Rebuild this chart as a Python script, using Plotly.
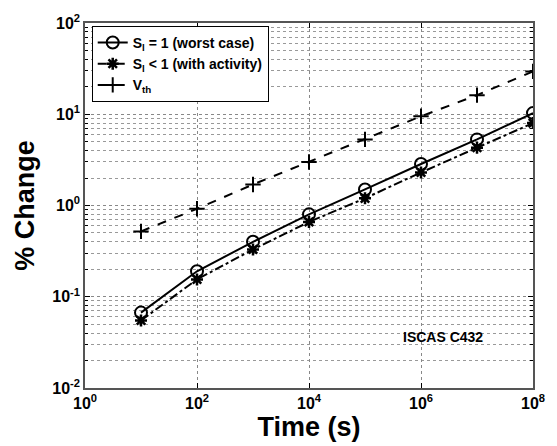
import plotly.graph_objects as go

time_s = [1e1, 1e2, 1e3, 1e4, 1e5, 1e6, 1e7, 1e8]
worst_case = [0.067, 0.19, 0.40, 0.80, 1.5, 2.85, 5.3, 10.3]
with_activity = [0.055, 0.155, 0.33, 0.66, 1.2, 2.3, 4.3, 8.0]
vth = [0.52, 0.92, 1.7, 3.0, 5.3, 9.5, 16.2, 29.5]

names = ["S<sub>l</sub> = 1 (worst case)", "S<sub>l</sub> < 1 (with activity)", "V<sub>th</sub>"]
xticks = [1e0, 1e2, 1e4, 1e6, 1e8]
yticks = [1e-2, 1e-1, 1e0, 1e1, 1e2]

fig = go.Figure()
fig.add_trace(go.Scatter(x=time_s, y=worst_case, name=names[0], mode="lines+markers",
                         line=dict(color="black", width=2, dash="solid"),
                         marker=dict(symbol="circle-open", size=12, color="black", line=dict(width=2))))
fig.add_trace(go.Scatter(x=time_s, y=with_activity, name=names[1], mode="lines+markers",
                         line=dict(color="black", width=2, dash="dashdot"),
                         marker=dict(symbol="asterisk-open", size=10, color="black", line=dict(width=2.5, color="black"))))
fig.add_trace(go.Scatter(x=time_s, y=vth, name=names[2], mode="lines+markers",
                         line=dict(color="black", width=2, dash="dash"),
                         marker=dict(symbol="cross-thin-open", size=11, color="black", line=dict(width=2, color="black"))))

fnt = "Liberation Sans, Arial, sans-serif"
fig.update_layout(
    width=557, height=446,
    margin=dict(l=85, r=12, t=22, b=58),
    paper_bgcolor="white", plot_bgcolor="white",
    font=dict(family=fnt, color="black"),
    showlegend=True,
    legend=dict(x=0.015, y=0.992, xanchor="left", yanchor="top",
                bgcolor="white", bordercolor="black", borderwidth=1,
                font=dict(size=14, family=fnt, weight="bold"),
                tracegroupgap=0, itemwidth=30),
    annotations=[dict(text="<b>ISCAS C432</b>", x=0.8, y=0.14, xref="paper", yref="paper",
                      showarrow=False, font=dict(size=14, family=fnt), xanchor="center", yanchor="middle")],
)
fig.update_xaxes(type="log", range=[0, 8],
                 tickvals=xticks, ticktext=["<b>10<sup>%d</sup></b>" % i for i in range(0, 9, 2)],
                 tickfont=dict(size=16, family=fnt),
                 ticks="inside", ticklen=5, tickcolor="black",
                 showline=True, linecolor="#555", linewidth=1.5, mirror="ticks",
                 showgrid=True, gridcolor="#888", griddash="dot", gridwidth=1,
                 title=dict(text="<b>Time (s)</b>", font=dict(size=27, family=fnt), standoff=2),
                 zeroline=False)
fig.update_yaxes(type="log", range=[-2, 2],
                 tickvals=yticks, ticktext=["<b>10<sup>%d</sup></b>" % i for i in range(-2, 3)],
                 tickfont=dict(size=16, family=fnt),
                 ticks="inside", ticklen=5, tickcolor="black",
                 showline=True, linecolor="#555", linewidth=1.5, mirror="ticks",
                 showgrid=True, gridcolor="#888", griddash="dot", gridwidth=1,
                 minor=dict(dtick="D1", showgrid=True, gridcolor="#999", griddash="dot", gridwidth=1,
                            ticks="inside", ticklen=3, tickcolor="black"),
                 title=dict(text="<b>% Change</b>", font=dict(size=27, family=fnt), standoff=10),
                 zeroline=False)

fig.write_html("out.html")
